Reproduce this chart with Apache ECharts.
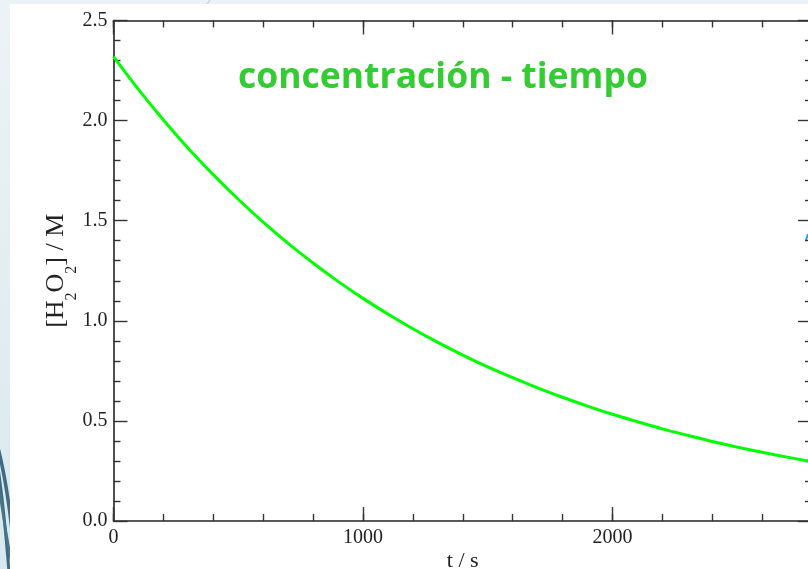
<!DOCTYPE html>
<html>
<head>
<meta charset="utf-8">
<script src="https://cdn.jsdelivr.net/npm/echarts@6/dist/echarts.min.js"></script>
<style>
  html, body { margin: 0; padding: 0; overflow: hidden; background: #eaf2f6; }
  #chart { width: 808px; height: 569px; }
</style>
</head>
<body>
<div id="chart"></div>
<script>
// Decay of hydrogen peroxide concentration over time
const timeS = [0, 100, 200, 300, 400, 500, 600, 700, 800, 900, 1000, 1100, 1200, 1300,
  1400, 1500, 1600, 1700, 1800, 1900, 2000, 2100, 2200, 2300, 2400, 2500, 2600, 2700, 2800];
const concM = [2.32, 2.156, 2.003, 1.861, 1.730, 1.607, 1.493, 1.387, 1.289, 1.197, 1.112,
  1.034, 0.960, 0.892, 0.829, 0.770, 0.716, 0.665, 0.618, 0.574, 0.533, 0.496, 0.460,
  0.428, 0.397, 0.369, 0.343, 0.319, 0.296];
const xTickLabels = [0, 1000, 2000];
const yTickLabels = ['0.0', '0.5', '1.0', '1.5', '2.0', '2.5'];

const titleText = 'concentración - tiempo';
const xName = 't / s';

const serif = "'Liberation Serif', 'Times New Roman', 'DejaVu Serif', serif";
const axisColor = '#222';
const tickColor = '#333';

function xAxisCfg(position, interval, tickLen, withLine, withLabels) {
  return {
    type: 'value', position: position, min: 0, max: 2800, interval: interval,
    axisLine: { show: withLine, onZero: false, lineStyle: { color: axisColor, width: 1.6 } },
    axisTick: { show: true, inside: true, length: tickLen, lineStyle: { color: tickColor, width: 1.4 } },
    axisLabel: withLabels ? {
      show: true, margin: 7, color: '#222', fontFamily: serif, fontSize: 20,
      formatter: v => (xTickLabels.indexOf(v) >= 0 ? String(v) : '')
    } : { show: false },
    splitLine: { show: false }
  };
}

function yAxisCfg(position, withLabels) {
  const cfg = {
    type: 'value', position: position, min: 0, max: 2.5, interval: 0.5,
    axisLine: { show: true, onZero: false, lineStyle: { color: axisColor, width: 1.6 } },
    axisTick: { show: true, inside: true, length: 14, lineStyle: { color: tickColor, width: 1.4 } },
    minorTick: { show: true, splitNumber: 5, length: 7, lineStyle: { color: tickColor, width: 1.4 } },
    axisLabel: withLabels ? {
      show: true, margin: 6, color: '#222', fontFamily: serif, fontSize: 20,
      formatter: v => yTickLabels[Math.round(v / 0.5)]
    } : { show: false },
    splitLine: { show: false }
  };
  if (withLabels) {
    cfg.name = '{m|[H}{s|2}{m|O}{s|2}{m|] / M}';
    cfg.nameLocation = 'middle';
    cfg.nameRotate = 90;
    cfg.nameGap = 44;
    cfg.nameMoveOverlap = false;
    cfg.nameTextStyle = {
      color: '#222',
      rich: {
        m: { fontFamily: serif, fontSize: 26, lineHeight: 26, color: '#222', verticalAlign: 'top' },
        s: { fontFamily: serif, fontSize: 16, lineHeight: 16, color: '#222', verticalAlign: 'top', padding: [20, 0, 0, 0] }
      }
    };
  }
  return cfg;
}

const chart = echarts.init(document.getElementById('chart'), null, { renderer: 'canvas' });

const xBottom = xAxisCfg('bottom', 200, 7, true, true);
xBottom.name = xName;
xBottom.nameLocation = 'middle';
xBottom.nameGap = 29;
xBottom.nameMoveOverlap = false;
xBottom.nameTextStyle = { fontFamily: serif, fontSize: 22, color: '#222' };

chart.setOption({
  backgroundColor: '#eaf2f6',
  animation: false,
  title: {
    text: titleText,
    left: 233, top: 55,
    textStyle: { fontFamily: "'Open Sans', sans-serif", fontWeight: 'bold', fontSize: 35.5, color: '#33cc33' }
  },
  graphic: [
    { type: 'rect', z: -30, shape: { x: 0, y: 0, width: 10, height: 569 },
      style: { fill: new echarts.graphic.LinearGradient(0, 0, 0, 1, [
        { offset: 0, color: '#ecf3f7' }, { offset: 1, color: '#d9e8ee' }]) } },
    { type: 'bezierCurve', z: -25, shape: { x1: -3, y1: 444, cpx1: 4, cpy1: 470, cpx2: 8, cpy2: 495, x2: 12, y2: 530 },
      style: { stroke: '#3f6c83', lineWidth: 3.5, fill: null } },
    { type: 'bezierCurve', z: -25, shape: { x1: -2, y1: 468, cpx1: 3, cpy1: 500, cpx2: 6, cpy2: 535, x2: 9, y2: 572 },
      style: { stroke: '#3f6c83', lineWidth: 3, fill: null } },
    { type: 'bezierCurve', z: -25, shape: { x1: 0, y1: 495, cpx1: 4, cpy1: 520, cpx2: 8, cpy2: 545, x2: 12, y2: 566 },
      style: { stroke: '#46748a', lineWidth: 2.5, fill: null } },
    { type: 'rect', z: -20, shape: { x: 10, y: 4, width: 798, height: 565 }, style: { fill: '#ffffff' } },
    { type: 'line', z: -19, shape: { x1: 806, y1: 240, x2: 808, y2: 234 }, style: { stroke: '#2aa6d8', lineWidth: 2 } },
    { type: 'line', z: -25, shape: { x1: 207, y1: 4, x2: 210, y2: 0 }, style: { stroke: '#c9d6de', lineWidth: 1.5 } }
  ],
  grid: { left: 113.5, right: -4, top: 20.5, bottom: 48, containLabel: false, outerBoundsMode: 'none' },
  xAxis: [
    xBottom,
    xAxisCfg('bottom', 1000, 14, false, false),
    xAxisCfg('top', 200, 7, true, false),
    xAxisCfg('top', 1000, 14, false, false)
  ],
  yAxis: [
    yAxisCfg('left', true),
    yAxisCfg('right', false)
  ],
  series: [{
    type: 'line',
    xAxisIndex: 0, yAxisIndex: 0,
    data: timeS.map((t, i) => [t, concM[i]]),
    smooth: 0.3,
    showSymbol: false,
    lineStyle: { color: '#00ff00', width: 3 },
    z: 5
  }]
});
</script>
</body>
</html>
